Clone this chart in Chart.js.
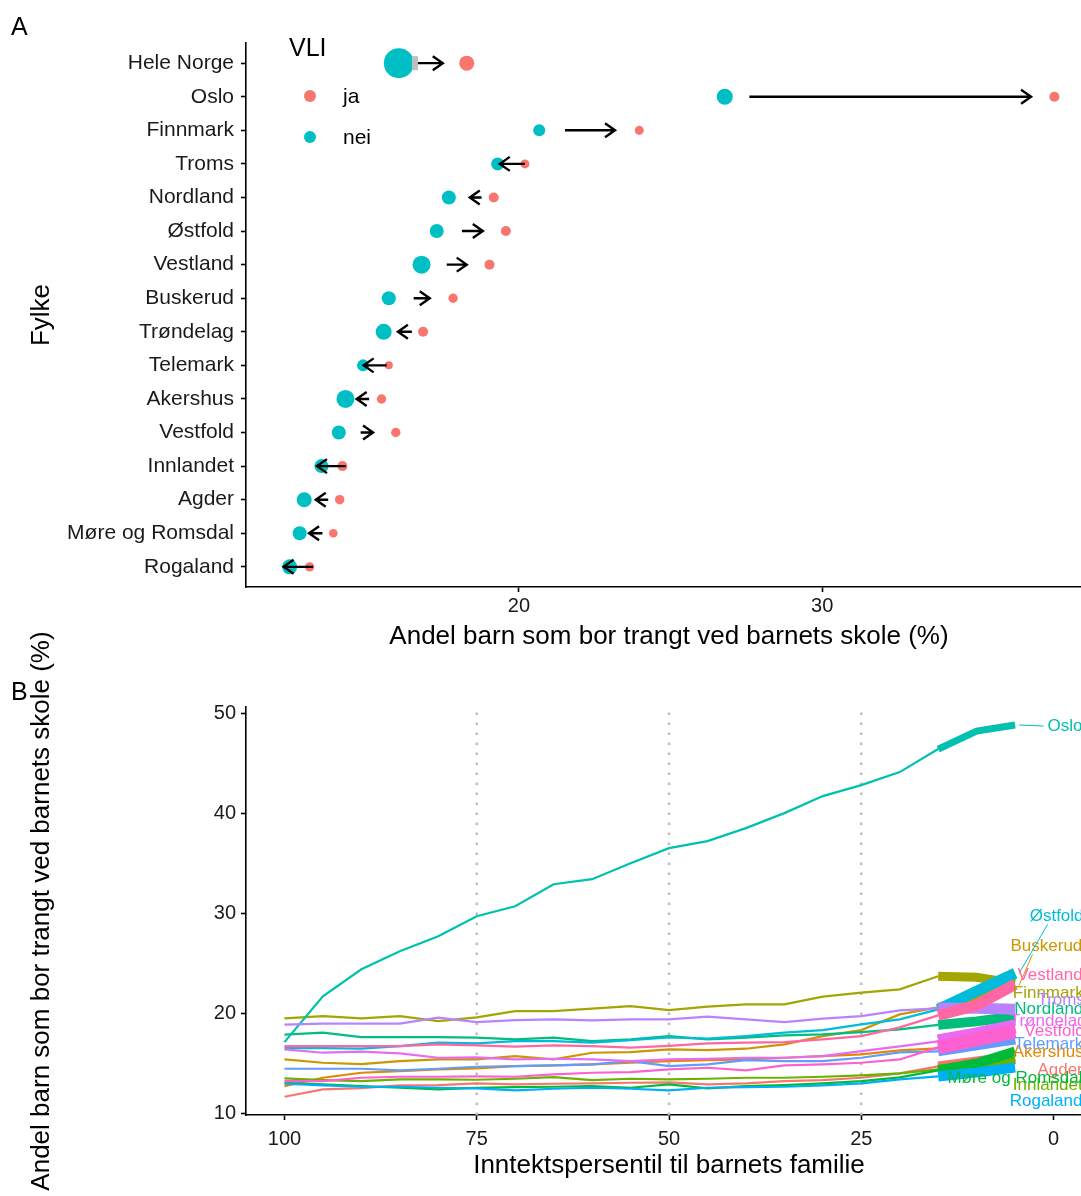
<!DOCTYPE html>
<html>
<head>
<meta charset="utf-8">
<script src="https://cdn.jsdelivr.net/npm/chart.js@4"></script>
<style>
html,body{margin:0;padding:0;background:#fff;}
#wrap{position:relative;width:1081px;height:1196px;overflow:hidden;background:#fff;}
canvas{position:absolute;left:0;}
#chartA{top:0;}
#chartB{top:610px;}
</style>
</head>
<body>
<div id="wrap">
<canvas id="chartA" width="1100" height="660"></canvas>
<canvas id="chartB" width="1100" height="586"></canvas>
</div>
<script>
"use strict"

// ---- panel A data ----
var regions = ['Hele Norge','Oslo','Finnmark','Troms','Nordland','Østfold','Vestland','Buskerud',
  'Trøndelag','Telemark','Akershus','Vestfold','Innlandet','Agder','Møre og Romsdal','Rogaland'];
var neiValues = [16.04, 26.79, 20.67, 19.30, 17.69, 17.29, 16.79, 15.71, 15.54, 14.86, 14.28, 14.06, 13.49, 12.92, 12.77, 12.44];
var jaValues  = [18.28, 37.66, 23.97, 20.20, 19.17, 19.57, 19.03, 17.83, 16.84, 15.71, 15.47, 15.94, 14.18, 14.09, 13.88, 13.10];
var neiSize = [15, 8, 6, 6.5, 7, 7, 9, 7, 8, 6, 9, 7, 7, 7.5, 7, 7.5];
var jaSize  = [7.5, 5, 4.5, 4.5, 5, 5, 5, 4.7, 5, 4, 4.7, 4.7, 5, 4.7, 4.3, 4.7];
// arrows (start -> end)
var arrowFrom = [16.67, 27.60, 21.52, 20.20, 18.77, 18.12, 17.62, 16.53, 16.47, 15.64, 15.06, 14.78, 14.29, 13.71, 13.52, 13.21];
var arrowTo   = [17.49, 36.89, 23.17, 19.37, 18.38, 18.81, 18.28, 17.06, 16.01, 14.88, 14.65, 15.19, 13.34, 13.30, 13.08, 12.24];
var xTicksA = [20, 30];

// ---- panel B data ----
var percentiles = [100, 95, 90, 85, 80, 75, 70, 65, 60, 55, 50, 45, 40, 35, 30, 25, 20, 15, 10, 5];
var fylker = ['Agder','Akershus','Buskerud','Finnmark','Innlandet','Møre og Romsdal','Nordland','Oslo',
  'Østfold','Rogaland','Telemark','Troms','Trøndelag','Vestfold','Vestland'];
var agder     = [11.67, 12.40, 12.53, 12.80, 12.83, 13.00, 12.90, 12.97, 13.00, 13.07, 13.10, 12.90, 13.00, 13.23, 13.33, 13.57, 14.00, 14.70, 15.20, 15.70];
var akershus  = [12.73, 13.57, 14.07, 14.23, 14.40, 14.50, 14.73, 14.80, 14.90, 15.07, 15.23, 15.33, 15.40, 15.57, 15.73, 15.90, 16.30, 16.50, 16.90, 17.30];
var buskerud  = [15.40, 15.07, 14.93, 15.23, 15.40, 15.40, 15.73, 15.40, 16.07, 16.13, 16.40, 16.33, 16.47, 16.90, 17.73, 18.33, 19.90, 20.60, 21.50, 22.80];
var finnmark  = [19.50, 19.73, 19.50, 19.73, 19.23, 19.60, 20.23, 20.23, 20.47, 20.73, 20.33, 20.67, 20.90, 20.90, 21.67, 22.07, 22.40, 23.70, 23.60, 23.00];
var innlandet = [13.50, 13.33, 13.23, 13.40, 13.40, 13.37, 13.47, 13.63, 13.33, 13.47, 13.40, 13.47, 13.57, 13.57, 13.67, 13.80, 14.00, 14.40, 14.80, 15.40];
var more      = [13.07, 12.90, 12.73, 12.57, 12.40, 12.55, 12.63, 12.67, 12.73, 12.57, 12.90, 12.50, 12.73, 12.83, 13.00, 13.23, 13.60, 14.30, 15.00, 16.20];
var nordland  = [17.87, 18.07, 17.63, 17.63, 17.63, 17.57, 17.40, 17.57, 17.23, 17.40, 17.73, 17.40, 17.57, 17.80, 17.90, 18.13, 18.40, 18.85, 19.20, 19.70];
var oslo      = [17.13, 21.70, 24.40, 26.20, 27.70, 29.70, 30.70, 32.90, 33.40, 35.00, 36.50, 37.20, 38.50, 40.00, 41.70, 42.80, 44.10, 46.40, 48.20, 48.80];
var ostfold   = [16.53, 16.53, 16.47, 16.73, 17.07, 17.00, 17.23, 17.23, 17.07, 17.33, 17.60, 17.47, 17.73, 18.07, 18.33, 18.90, 19.40, 20.40, 22.20, 24.00];
var rogaland  = [12.97, 12.80, 12.67, 12.67, 12.57, 12.50, 12.30, 12.47, 12.57, 12.47, 12.30, 12.57, 12.63, 12.67, 12.80, 13.00, 13.40, 13.70, 14.10, 14.60];
var telemark  = [14.47, 14.47, 14.47, 14.30, 14.47, 14.67, 14.73, 14.80, 14.90, 15.23, 14.73, 14.90, 15.33, 15.23, 15.23, 15.57, 16.10, 16.20, 16.80, 17.40];
var troms     = [18.87, 18.97, 18.97, 18.97, 19.57, 19.13, 19.33, 19.40, 19.30, 19.40, 19.40, 19.67, 19.40, 19.13, 19.47, 19.73, 20.30, 20.50, 20.50, 20.40];
var trondelag = [16.40, 16.07, 16.17, 16.00, 15.57, 15.60, 15.40, 15.47, 15.40, 15.23, 15.40, 15.47, 15.57, 15.57, 15.73, 16.23, 16.70, 17.20, 17.90, 18.70];
var vestfold  = [13.23, 13.23, 13.57, 13.67, 13.67, 13.70, 13.67, 13.90, 14.07, 14.13, 14.40, 14.57, 14.30, 14.80, 14.90, 15.07, 15.40, 16.60, 17.40, 18.20];
var vestland  = [16.73, 16.73, 16.73, 16.73, 16.90, 16.80, 16.67, 16.80, 16.73, 16.57, 16.75, 17.00, 17.07, 17.13, 17.40, 17.73, 18.60, 19.80, 20.80, 22.90];
var series = [agder, akershus, buskerud, finnmark, innlandet, more, nordland, oslo, ostfold, rogaland, telemark, troms, trondelag, vestfold, vestland];
var thickSize = [10, 8, 9, 9, 10, 10, 10, 7, 11, 10, 10, 11, 14, 14, 11];
// label positions (percentile, percent)
var labelX = [2.1, 5.3, 5.6, 5.3, 5.3, 13.8, 5.1, 0.78, 3.1, 5.7, 5.1, 2.1, 5.7, 3.8, 4.7];
var labelY = [14.3, 16.1, 26.7, 22.0, 12.8, 13.5, 20.4, 48.7, 29.7, 11.2, 16.9, 21.3, 19.2, 18.2, 23.8];
var xTicksB = [100, 75, 50, 25, 0];
var yTicksB = [10, 20, 30, 40, 50];
var quartileLines = [75, 50, 25];

var colors = ['#F8766D','#E58700','#C99800','#A3A500','#6BB100','#00BA38','#00BF7D','#00C0AF',
  '#00BCD8','#00B0F6','#619CFF','#B983FF','#E76BF3','#FD61D1','#FF67A4'];
var colJa = '#F8766D', colNei = '#00BFC4';

Chart.defaults.font.family = "'Liberation Sans', Arial, sans-serif";
Chart.defaults.color = '#1a1a1a';

function axisStyle(){
    return {
        border:{display:true,color:'#000',width:1.6},
        grid:{display:true,drawOnChartArea:false,drawTicks:true,tickLength:5,tickColor:'#000',tickWidth:1.6}
    }
}

// ---------- Panel A ----------
var pluginA = {
    id:'arrowsA',
    afterDatasetsDraw:function(chart){
        var ctx = chart.ctx, x = chart.scales.x, y = chart.scales.y;
        ctx.save();
        // small grey stub at the start of the national arrow
        var gx = x.getPixelForValue(arrowFrom[0]), gy = y.getPixelForValue(0);
        ctx.fillStyle = '#BEBEBE';
        ctx.fillRect(gx - 6, gy - 7, 6, 14);
        ctx.strokeStyle = '#000';
        ctx.lineWidth = 2.4;
        for (var i = 0; i < regions.length; i++){
            var x1 = x.getPixelForValue(arrowFrom[i]);
            var x2 = x.getPixelForValue(arrowTo[i]);
            var py = y.getPixelForValue(i);
            var dir = x2 > x1 ? 1 : -1;
            ctx.beginPath();
            ctx.moveTo(x1, py); ctx.lineTo(x2, py);
            ctx.moveTo(x2 - dir*10, py - 7); ctx.lineTo(x2, py); ctx.lineTo(x2 - dir*10, py + 7);
            ctx.stroke();
        }
        // legend
        ctx.fillStyle = '#000';
        ctx.textBaseline = 'middle';
        ctx.textAlign = 'left';
        ctx.font = "25px 'Liberation Sans', Arial, sans-serif";
        ctx.fillText('VLI', 289, 49);
        ctx.font = "21px 'Liberation Sans', Arial, sans-serif";
        ctx.fillText('ja', 343, 97);
        ctx.fillText('nei', 343, 138);
        ctx.fillStyle = colJa;
        ctx.beginPath(); ctx.arc(310, 96, 6, 0, Math.PI*2); ctx.fill();
        ctx.fillStyle = colNei;
        ctx.beginPath(); ctx.arc(310, 137, 6, 0, Math.PI*2); ctx.fill();
        // panel letter
        ctx.fillStyle = '#000';
        ctx.font = "25px 'Liberation Sans', Arial, sans-serif";
        ctx.fillText('A', 11, 28);
        ctx.restore();
    }
};

var styleAx = axisStyle(), styleAy = axisStyle();
new Chart('chartA', {
    type:'scatter',
    data:{
        datasets:[
            {label:'nei', data:neiValues.map(function(v,i){return {x:v,y:i}}),
             backgroundColor:colNei, borderWidth:0, pointRadius:neiSize, pointHoverRadius:neiSize},
            {label:'ja', data:jaValues.map(function(v,i){return {x:v,y:i}}),
             backgroundColor:colJa, borderWidth:0, pointRadius:jaSize, pointHoverRadius:jaSize}
        ]
    },
    plugins:[pluginA],
    options:{
        responsive:false, animation:false,
        layout:{autoPadding:false, padding:{top:43,right:8,left:0,bottom:0}},
        plugins:{legend:{display:false},tooltip:{enabled:false}},
        scales:{
            x:{
                type:'linear', min:11.0, max:38.9,
                border:styleAx.border, grid:styleAx.grid,
                afterBuildTicks:function(s){ s.ticks = xTicksA.map(function(v){return {value:v}}) },
                afterFit:function(s){ s.height = 73 },
                ticks:{font:{size:20},padding:2,color:'#1a1a1a'},
                title:{display:true,text:'Andel barn som bor trangt ved barnets skole (%)',
                       font:{size:26},color:'#000',padding:{top:0,bottom:8}}
            },
            y:{
                type:'linear', min:-0.6, max:15.6, reverse:true,
                border:styleAy.border, grid:styleAy.grid,
                afterBuildTicks:function(s){ s.ticks = regions.map(function(r,i){return {value:i}}) },
                afterFit:function(s){ s.width = 246 },
                ticks:{font:{size:21},padding:7,color:'#1a1a1a',autoSkip:false,
                       callback:function(v){ return regions[v] }},
                title:{display:true,text:'Fylke',font:{size:26},color:'#000',padding:{top:26,bottom:0}}
            }
        }
    }
});

// ---------- Panel B ----------
var pluginB = {
    id:'labelsB',
    beforeDatasetsDraw:function(chart){
        var ctx = chart.ctx, x = chart.scales.x, area = chart.chartArea;
        ctx.save();
        ctx.strokeStyle = '#BEBEBE';
        ctx.lineWidth = 2.5;
        ctx.setLineDash([2.5, 7.5]);
        quartileLines.forEach(function(q){
            var px = x.getPixelForValue(q);
            ctx.beginPath(); ctx.moveTo(px, area.bottom); ctx.lineTo(px, area.top); ctx.stroke();
        });
        ctx.restore();
    },
    afterDatasetsDraw:function(chart){
        var ctx = chart.ctx, x = chart.scales.x, y = chart.scales.y;
        var last = percentiles.length - 1;
        ctx.save();
        ctx.font = "17px 'Liberation Sans', Arial, sans-serif";
        ctx.textBaseline = 'middle';
        ctx.textAlign = 'left';
        // leader lines for labels pushed away from their line end
        var leaders = {'Oslo':[-4,0], 'Østfold':[18,8], 'Buskerud':[22,8]};
        for (var i = 0; i < fylker.length; i++){
            var lx = x.getPixelForValue(labelX[i]), ly = y.getPixelForValue(labelY[i]);
            var off = leaders[fylker[i]];
            if (off){
                ctx.strokeStyle = colors[i];
                ctx.lineWidth = 1;
                ctx.beginPath();
                ctx.moveTo(x.getPixelForValue(percentiles[last]) + 4, y.getPixelForValue(series[i][last]));
                ctx.lineTo(lx + off[0], ly + off[1]);
                ctx.stroke();
            }
            ctx.fillStyle = colors[i];
            ctx.fillText(fylker[i], lx, ly);
        }
        ctx.fillStyle = '#000';
        ctx.font = "25px 'Liberation Sans', Arial, sans-serif";
        ctx.fillText('B', 11, 83);
        ctx.restore();
    }
};

var thinSets = fylker.map(function(f, i){
    return {label:f, data:percentiles.slice(0, 18).map(function(p, j){return {x:p, y:series[i][j]}}),
            borderColor:colors[i], borderWidth:2.2, pointRadius:0, fill:false, tension:0};
});
var thickSets = fylker.map(function(f, i){
    return {label:f + ' (siste)', data:percentiles.slice(17).map(function(p, j){return {x:p, y:series[i][17 + j]}}),
            borderColor:colors[i], borderWidth:thickSize[i], pointRadius:0, fill:false, tension:0};
});
// first dataset is drawn on top, so reverse to keep alphabetical layering
var datasetsB = thickSets.slice().reverse().concat(thinSets.slice().reverse());

var styleBx = axisStyle(), styleBy = axisStyle();
new Chart('chartB', {
    type:'line',
    data:{datasets:datasetsB},
    plugins:[pluginB],
    options:{
        responsive:false, animation:false,
        layout:{autoPadding:false, padding:{top:97,right:8,left:0,bottom:0}},
        plugins:{legend:{display:false},tooltip:{enabled:false}},
        scales:{
            x:{
                type:'linear', min:-5, max:105, reverse:true,
                border:styleBx.border, grid:styleBx.grid,
                afterBuildTicks:function(s){ s.ticks = xTicksB.map(function(v){return {value:v}}) },
                afterFit:function(s){ s.height = 81 },
                ticks:{font:{size:20},padding:7,color:'#1a1a1a'},
                title:{display:true,text:'Inntektspersentil til barnets familie',
                       font:{size:26},color:'#000',padding:{top:0,bottom:15}}
            },
            y:{
                type:'linear', min:9.85, max:50.6,
                border:styleBy.border, grid:styleBy.grid,
                afterBuildTicks:function(s){ s.ticks = yTicksB.map(function(v){return {value:v}}) },
                afterFit:function(s){ s.width = 246 },
                ticks:{font:{size:20},padding:5,color:'#1a1a1a'},
                title:{display:true,text:'Andel barn som bor trangt ved barnets skole (%)',
                       font:{size:26},color:'#000',padding:{top:26,bottom:0}}
            }
        }
    }
});
</script>
</body>
</html>
